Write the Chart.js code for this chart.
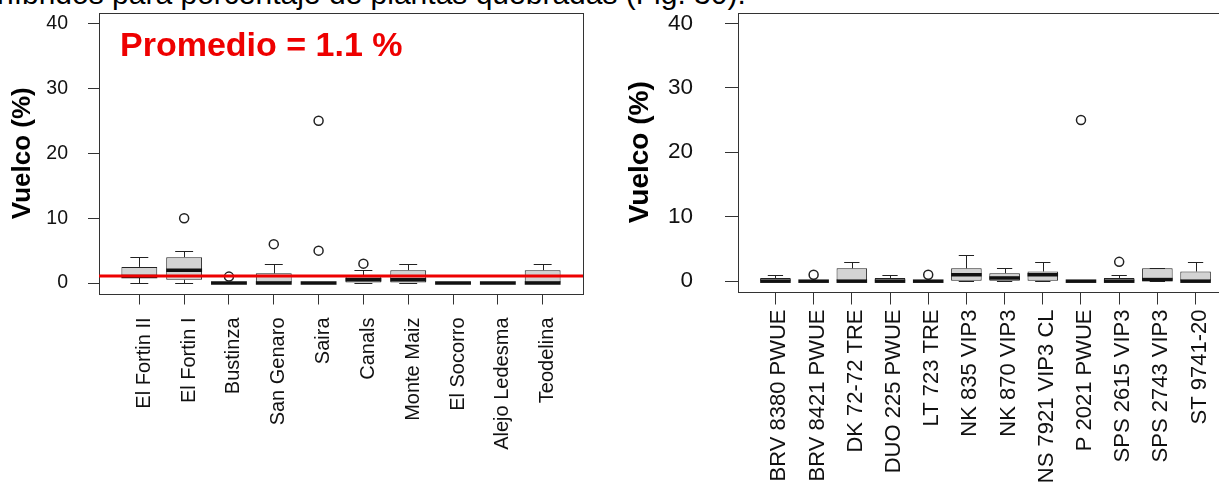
<!DOCTYPE html>
<html lang="es">
<head>
<meta charset="utf-8">
<title>Vuelco (%)</title>
<script src="https://cdn.jsdelivr.net/npm/chart.js@4.4.1/dist/chart.umd.min.js"></script>
<style>
  html, body { margin: 0; padding: 0; background: #fff; overflow: hidden; }
  body { width: 1219px; height: 489px; position: relative; font-family: "Liberation Sans", Arial, sans-serif; }
  #caption { position: absolute; left: -3px; top: -21px; font-size: 30px; line-height: 30px; white-space: nowrap; color: #000; }
  #c1 { position: absolute; left: 0; top: 0; }
  #c2 { position: absolute; left: 600px; top: 0; }
</style>
</head>
<body>
<div id="caption">híbridos para porcentaje de plantas quebradas (Fig. 30).</div>
<canvas id="c1" width="600" height="489"></canvas>
<canvas id="c2" width="640" height="489"></canvas>
<script>
// ---- data: ambientes (left panel) ----
const sitios = ["El Fortin II", "El Fortin I", "Bustinza", "San Genaro", "Saira",
  "Canals", "Monte Maiz", "El Socorro", "Alejo Ledesma", "Teodelina"];
const sitiosMin = [0, 0, 0, 0, 0, 0, 0, 0, 0, 0];
const sitiosQ1 = [1, 0.5, 0, 0, 0, 0, 0, 0, 0, 0];
const sitiosMed = [1, 2, 0, 0, 0, 0.5, 0.5, 0, 0, 0];
const sitiosQ3 = [2.5, 4, 0, 1.5, 0, 1, 2, 0, 0, 2];
const sitiosMax = [4, 5, 0, 3, 0, 2, 3, 0, 0, 3];
const sitiosOut = [[], [10], [1], [6], [5, 25], [3], [], [], [], []];
const promedio = 1.1;

// ---- data: hibridos (right panel) ----
const hibridos = ["BRV 8380 PWUE", "BRV 8421 PWUE", "DK 72-72 TRE", "DUO 225 PWUE", "LT 723 TRE",
  "NK 835 VIP3", "NK 870 VIP3", "NS 7921 VIP3 CL", "P 2021 PWUE", "SPS 2615 VIP3",
  "SPS 2743 VIP3", "ST 9741-20"];
const hibMin = [0, 0, 0, 0, 0, 0, 0, 0, 0, 0, 0, 0];
const hibQ1 = [0, 0, 0, 0, 0, 0, 0, 0, 0, 0, 0, 0];
const hibMed = [0, 0, 0, 0, 0, 1, 0.5, 1, 0, 0, 0.25, 0];
const hibQ3 = [0.5, 0, 2, 0.5, 0, 2, 1.25, 1.5, 0, 0.5, 2, 1.5];
const hibMax = [1, 0, 3, 1, 0, 4, 2, 3, 0, 1, 2, 3];
const hibOut = [[], [1], [], [], [1], [], [], [], [25], [3], [], []];

const yTicks = [0, 10, 20, 30, 40];

// medians, whiskers, staples (R bxp style), drawn through the chart scales
const boxplotPlugin = {
  id: "boxplot",
  afterDatasetsDraw(chart, args, o) {
    const { ctx, scales: { x, y } } = chart;
    const half = (x.getPixelForValue(2) - x.getPixelForValue(1)) * 0.4;
    const px = v => Math.round(v) + 0.5;
    ctx.save();
    o.med.forEach((m, i) => {
      const cx = x.getPixelForValue(i + 1);
      ctx.strokeStyle = "#222";
      ctx.lineWidth = 1;
      ctx.beginPath();
      ctx.moveTo(px(cx), y.getPixelForValue(o.q3[i]));
      ctx.lineTo(px(cx), px(y.getPixelForValue(o.max[i])));
      ctx.moveTo(cx - half / 2, px(y.getPixelForValue(o.max[i])));
      ctx.lineTo(cx + half / 2, px(y.getPixelForValue(o.max[i])));
      ctx.moveTo(px(cx), y.getPixelForValue(o.q1[i]));
      ctx.lineTo(px(cx), px(y.getPixelForValue(o.min[i])));
      ctx.moveTo(cx - half / 2, px(y.getPixelForValue(o.min[i])));
      ctx.lineTo(cx + half / 2, px(y.getPixelForValue(o.min[i])));
      ctx.stroke();
      // median
      ctx.lineWidth = 3.5;
      ctx.strokeStyle = "#111";
      ctx.beginPath();
      ctx.moveTo(cx - half, y.getPixelForValue(m));
      ctx.lineTo(cx + half, y.getPixelForValue(m));
      ctx.stroke();
    });
    ctx.restore();
  },
  afterDraw(chart, args, o) {
    const { ctx, chartArea: a, scales: { y } } = chart;
    ctx.save();
    // frame
    ctx.strokeStyle = "#333";
    ctx.lineWidth = 1;
    ctx.strokeRect(Math.round(a.left) + 0.5, Math.round(a.top) + 0.5,
      Math.round(a.right - a.left), Math.round(a.bottom - a.top));
    if (o.promedio != null) {
      const yp = y.getPixelForValue(o.promedio);
      ctx.strokeStyle = "#ee0000";
      ctx.lineWidth = 3;
      ctx.beginPath();
      ctx.moveTo(a.left, yp);
      ctx.lineTo(a.right, yp);
      ctx.stroke();
      ctx.fillStyle = "#ee0000";
      ctx.font = "bold 34px 'Liberation Sans', Arial, sans-serif";
      ctx.textBaseline = "alphabetic";
      ctx.fillText("Promedio = " + o.promedio + " %", a.left + 21, a.top + 43);
    }
    ctx.restore();
  }
};

function makePanel(id, names, stats, outliers, P) {
  const n = names.length;
  const ext = 0.04 * n;
  const outPts = [];
  outliers.forEach((vals, i) => vals.forEach(v => outPts.push({ x: i + 1, y: v })));

  return new Chart(document.getElementById(id), {
    type: "bar",
    data: {
      datasets: [
        {
          data: names.map((nm, i) => ({ x: i + 1, y: [stats.q1[i], stats.q3[i]] })),
          backgroundColor: "#d3d3d3",
          borderColor: "#222",
          borderWidth: 1,
          borderSkipped: false,
          categoryPercentage: 1,
          barPercentage: 0.8
        },
        {
          type: "line",
          data: outPts,
          showLine: false,
          pointStyle: "circle",
          pointRadius: 4.5,
          pointBorderWidth: 1.5,
          pointBackgroundColor: "rgba(0,0,0,0)",
          pointBorderColor: "#222"
        }
      ]
    },
    options: {
      responsive: false,
      animation: false,
      events: [],
      layout: { padding: { top: 13, right: P.padRight, left: 0, bottom: 0 } },
      plugins: {
        legend: { display: false },
        tooltip: { enabled: false },
        boxplot: Object.assign({ promedio: P.promedio }, stats)
      },
      scales: {
        x: {
          type: "linear",
          min: 0.5 - ext,
          max: n + 0.5 + ext,
          offset: false,
          afterBuildTicks: s => { s.ticks = names.map((nm, i) => ({ value: i + 1 })); },
          afterFit: s => { s.height = P.xAxisHeight; s.paddingLeft = 0; s.paddingRight = 0; },
          grid: { drawOnChartArea: false, drawTicks: true, tickLength: P.tick, color: "#333", offset: false },
          border: { display: false },
          ticks: {
            autoSkip: false, minRotation: 90, maxRotation: 90,
            padding: P.xPad, labelOffset: P.labelOffset,
            color: "#111", font: { size: P.xFont, family: "'Liberation Sans', Arial, sans-serif" },
            callback: v => names[v - 1] ?? ""
          }
        },
        y: {
          min: -1.6,
          max: 41.6,
          afterBuildTicks: s => { s.ticks = yTicks.map(v => ({ value: v })); },
          // keep the plot box where the reference has it
          afterFit: s => { s.width = P.yAxisWidth; s.paddingTop = 0; s.paddingBottom = 0; },
          grid: { drawOnChartArea: false, drawTicks: true, tickLength: P.tick, color: "#333" },
          border: { display: false },
          ticks: {
            padding: P.yPad, color: "#111",
            font: { size: P.yFont, family: "'Liberation Sans', Arial, sans-serif" },
            callback: v => String(v)
          },
          title: {
            display: true, text: "Vuelco (%)", color: "#000",
            font: { size: P.titleFont, weight: "bold", family: "'Liberation Sans', Arial, sans-serif" },
            padding: { top: P.titlePad, bottom: 0 }
          }
        }
      }
    },
    plugins: [boxplotPlugin]
  });
}

makePanel("c1", sitios,
  { min: sitiosMin, q1: sitiosQ1, med: sitiosMed, q3: sitiosQ3, max: sitiosMax },
  sitiosOut,
  { padRight: 17, yAxisWidth: 99, xAxisHeight: 195.5, tick: 11, yPad: 20, xPad: 13,
    xFont: 20, yFont: 19.5, titleFont: 26, titlePad: 7, labelOffset: 5, promedio: promedio });

makePanel("c2", hibridos,
  { min: hibMin, q1: hibQ1, med: hibMed, q3: hibQ3, max: hibMax },
  hibOut,
  { padRight: 7, yAxisWidth: 138, xAxisHeight: 197.5, tick: 13, yPad: 32, xPad: 5,
    xFont: 22, yFont: 22.5, titleFont: 28, titlePad: 23, labelOffset: 4, promedio: null });
</script>
</body>
</html>
